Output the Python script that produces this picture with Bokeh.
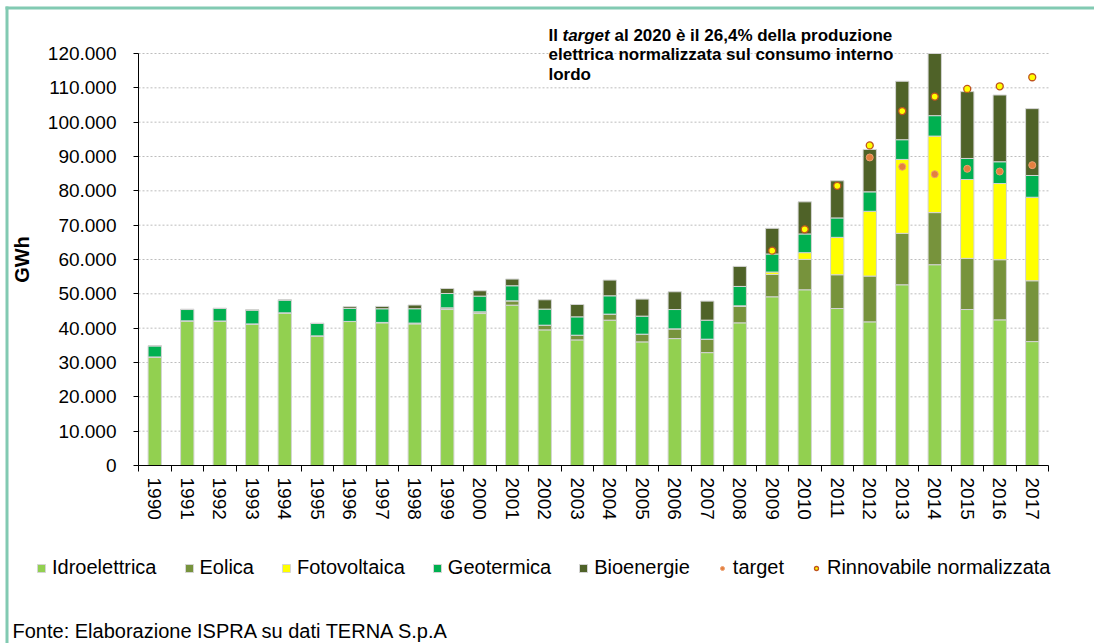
from bokeh.plotting import figure
from bokeh.models import (ColumnDataSource, FixedTicker, Legend, LegendItem, Label, Range1d,
                          BoxAnnotation)
from bokeh.embed import file_html
from bokeh.resources import INLINE

years = [1990, 1991, 1992, 1993, 1994, 1995, 1996, 1997, 1998, 1999, 2000, 2001, 2002, 2003,
         2004, 2005, 2006, 2007, 2008, 2009, 2010, 2011, 2012, 2013, 2014, 2015, 2016, 2017]
idroelettrica = [31620, 42130, 42100, 41250, 44470, 37750, 41930, 41550, 41250, 45430, 44260, 46710, 39500, 36580,
                 42330, 36000, 36960, 32880, 41550, 49140, 51180, 45720, 41840, 52640, 58480, 45430, 42420, 36090]
eolica = [0, 0, 0, 0, 0, 10, 30, 120, 230, 490, 500, 1260, 1370, 1370,
          1760, 2250, 2840, 3910, 4760, 6510, 8860, 9840, 13340, 14980, 15180, 14890, 17520, 17720]
fotovoltaica = [0, 0, 0, 0, 0, 0, 0, 0, 0, 0, 0, 0, 0, 0,
                0, 0, 0, 0, 200, 700, 1950, 10890, 18860, 21520, 22280, 22980, 22190, 24320]
geotermica = [3210, 3300, 3620, 4000, 3700, 3600, 3790, 3980, 4180, 4180, 4580, 4380, 4680, 5350,
              5340, 5250, 5630, 5540, 5640, 5250, 5450, 5660, 5670, 5750, 5960, 6130, 6340, 6340]
bioenergie = [50, 100, 100, 100, 100, 100, 500, 690, 1080, 1460, 1550, 1950, 2710, 3590,
              4580, 4970, 5170, 5550, 5840, 7480, 9350, 10810, 12350, 17020, 18100, 19470, 19440, 19470]

target_years = [2012, 2013, 2014, 2015, 2016, 2017]
target = [89720, 87010, 84850, 86420, 85630, 87480]

norm_years = [2009, 2010, 2011, 2012, 2013, 2014, 2015, 2016, 2017]
rinnovabile_normalizzata = [62570, 68790, 81460, 93230, 103240, 107440, 109680, 110450, 113080]

y_ticks = [0, 10000, 20000, 30000, 40000, 50000, 60000, 70000, 80000, 90000, 100000, 110000, 120000]
y_tick_labels = ["0", "10.000", "20.000", "30.000", "40.000", "50.000", "60.000",
                 "70.000", "80.000", "90.000", "100.000", "110.000", "120.000"]

series_names = ["Idroelettrica", "Eolica", "Fotovoltaica", "Geotermica", "Bioenergie"]
series_colors = ["#92D050", "#77933C", "#FFFF00", "#00B050", "#4F6228"]

FONT = "Liberation Sans, Arial, sans-serif"

# ---- layout (pixels) ----
W, H = 1094, 643
PLOT_L, PLOT_R, PLOT_T, PLOT_B = 138, 1048, 53, 465
x_lo, x_hi = years[0] - 0.5, years[-1] + 0.5
y_lo, y_hi = y_ticks[0], y_ticks[-1]
px_per_x = (PLOT_R - PLOT_L) / (x_hi - x_lo)
px_per_y = (PLOT_B - PLOT_T) / (y_hi - y_lo)
x_range = Range1d(x_lo - PLOT_L / px_per_x, x_hi + (W - PLOT_R) / px_per_x)
y_range = Range1d(y_lo - (H - PLOT_B) / px_per_y, y_hi + PLOT_T / px_per_y)

src = ColumnDataSource(dict(years=years, Idroelettrica=idroelettrica, Eolica=eolica,
                            Fotovoltaica=fotovoltaica, Geotermica=geotermica, Bioenergie=bioenergie))

p = figure(width=W, height=H, output_backend="svg", toolbar_location=None,
           x_range=x_range, y_range=y_range,
           min_border_left=0, min_border_right=0, min_border_top=0, min_border_bottom=0)
p.outline_line_color = None
p.background_fill_color = "white"
p.border_fill_color = "white"
p.xgrid.visible = False
p.ygrid.visible = False

# dotted horizontal gridlines over the plot area
p.segment(x0=x_lo, x1=x_hi, y0=y_ticks[1:], y1=y_ticks[1:], line_color="#bdbdbd",
          line_dash="2 2", line_width=1)

bars = p.vbar_stack(series_names, x="years", width=0.41, source=src, color=series_colors,
                    line_color="#d4d4d4", line_width=1)

r_target = p.scatter(target_years, target, size=7, fill_color="#E3803F", line_color="#EDA070",
                     line_width=1)
r_norm = p.scatter(norm_years, rinnovabile_normalizzata, size=7, fill_color="#FFFF00",
                   line_color="#C0541E", line_width=1.3)

# axes
yax = p.yaxis[0]
yax.fixed_location = x_lo
yax.bounds = (y_lo, y_hi)
yax.ticker = FixedTicker(ticks=y_ticks)
yax.major_label_overrides = {t: l for t, l in zip(y_ticks, y_tick_labels)}
yax.major_tick_out = 5
yax.major_tick_in = 0
yax.minor_tick_line_color = None
yax.axis_line_color = "black"
yax.major_tick_line_color = "black"
yax.major_label_text_font = FONT
yax.major_label_text_font_size = "19px"
yax.major_label_text_color = "black"
yax.major_label_standoff = 17
yax.axis_label = "GWh"
yax.axis_label_text_font = FONT
yax.axis_label_text_font_style = "bold"
yax.axis_label_text_font_size = "20px"
yax.axis_label_text_color = "black"
yax.axis_label_standoff = 12

xax = p.xaxis[0]
xax.fixed_location = y_lo
xax.bounds = (x_lo, x_hi)
xax.ticker = FixedTicker(ticks=years, minor_ticks=[y - 0.5 for y in years] + [years[-1] + 0.5])
xax.major_label_overrides = {y: str(y) for y in years}
xax.major_tick_line_color = None
xax.minor_tick_line_color = "black"
xax.minor_tick_out = 6
xax.minor_tick_in = 0
xax.axis_line_color = "black"
xax.major_label_orientation = "vertical"
xax.major_label_text_font = FONT
xax.major_label_text_font_size = "19px"
xax.major_label_text_color = "black"
xax.major_label_standoff = 6

# legend
items = [LegendItem(label=n, renderers=[r]) for n, r in zip(series_names, bars)]
items.append(LegendItem(label="target", renderers=[r_target]))
items.append(LegendItem(label="Rinnovabile normalizzata", renderers=[r_norm]))
legend = Legend(items=items, orientation="horizontal", location=(36, 64),
                label_text_font=FONT, label_text_font_size="20px", label_text_color="black",
                glyph_width=10, glyph_height=10, label_standoff=6, spacing=27,
                padding=0, margin=0, border_line_color=None, background_fill_alpha=0,
                label_height=20)
p.add_layout(legend, "center")

# frame border (teal)
teal = "#82CAB2"
p.add_layout(BoxAnnotation(left=5, right=W, top=6, bottom=9, left_units="canvas", right_units="canvas",
                           top_units="canvas", bottom_units="canvas", fill_color=teal, fill_alpha=1,
                           line_color=None))
p.add_layout(BoxAnnotation(left=5, right=8, top=6, bottom=H, left_units="canvas", right_units="canvas",
                           top_units="canvas", bottom_units="canvas", fill_color=teal, fill_alpha=1,
                           line_color=None))

# annotation text
common = dict(x_units="canvas", y_units="canvas", text_font=FONT, text_font_size="17px",
              text_font_style="bold", text_color="black", text_baseline="alphabetic")
p.add_layout(Label(x=548, y=34.5, text="Il", **common))
p.add_layout(Label(x=562, y=34.5, text="target", **{**common, "text_font_style": "bold italic"}))
p.add_layout(Label(x=614, y=34.5, text="al 2020 è il 26,4% della produzione", **common))
p.add_layout(Label(x=548, y=54, text="elettrica normalizzata sul consumo interno", **common))
p.add_layout(Label(x=548, y=73.5, text="lordo", **common))

p.add_layout(Label(x=12, y=641, x_units="canvas", y_units="canvas",
                   text="Fonte: Elaborazione ISPRA su dati TERNA S.p.A",
                   text_font=FONT, text_font_size="20px", text_color="black",
                   text_baseline="bottom"))

open("out.html", "w").write(file_html(p, INLINE))
